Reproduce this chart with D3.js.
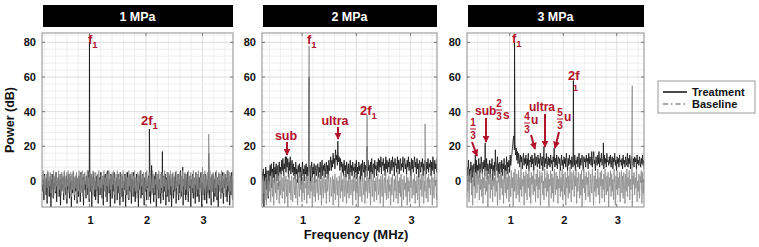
<!DOCTYPE html>
<html><head><meta charset="utf-8">
<script src="https://cdn.jsdelivr.net/npm/d3@7"></script>
<style>body{margin:0;background:#fff} svg{display:block;font-family:"Liberation Sans",Arial,sans-serif}</style>
</head><body><svg id="c" width="759" height="247"></svg>
<script>
// ---------------- DATA ----------------
const panelTitles = ["1 MPa", "2 MPa", "3 MPa"];
const xDomains = [[0.16, 3.54], [0.26, 3.49], [0.2, 3.51]];
const yDomain = [-15, 85.4];
const xTicks = [1, 2, 3];
const yTicks = [0, 20, 40, 60, 80];
const seriesNames = ["Treatment", "Baseline"];
const freqStart = 0.16, freqStep = 0.0113;   // MHz, spectrum sampling

const p1Treatment = [3,-6,1,-11,4,-2,-8,2,-13,5,-4,0,-9,3,-15,1,-5,4,-10,-1,
 2,-7,5,-12,0,-3,3,-9,1,-14,4,-6,-1,2,-11,5,-4,-8,3,-13,
 1,-5,4,-10,-2,3,-15,0,-7,5,-3,-11,2,-6,4,-13,1,-9,3,-4,
 -12,5,-1,-7,2,-14,4,-5,0,-10,3,-8,6,-2,-12,1,-6,4,-15,2,
 -3,5,-9,0,-11,3,-6,4,-13,-1,2,-8,5,-4,-10,1,-14,3,-5,4,
 -9,2,-12,6,-3,-7,1,-15,4,-2,-10,3,-6,5,-13,0,-4,2,-11,4,
 -7,1,-14,5,-3,-9,3,-12,0,-5,4,-15,2,-8,5,-1,-11,3,-6,4,
 -13,1,-4,5,-9,2,-12,-2,4,-7,0,-15,3,-5,6,-10,1,-8,4,-3,
 -14,2,-6,5,-11,0,-4,3,-9,6,-13,1,-7,4,-2,-12,3,-8,5,-15,
 2,-5,4,-10,1,-3,-13,5,-7,0,-11,3,-6,4,-14,2,-9,5,-2,-12,
 3,-8,1,-15,4,-4,-10,2,-6,5,-13,0,-3,4,-11,1,-7,6,-9,-2,
 3,-14,1,-5,4,-11,2,-8,5,-12,0,-4,3,-15,1,-7,4,-10,2,-3,
 -13,5,-6,1,-9,4,-12,2,-4,5,-15,0,-8,3,-5,-11,4,-2,-13,1,
 -7,5,-10,2,-4,-14,3,-6,4,-12,1,-9,5,-3,-11,2,-15,4,-5,0,
 -10,3,-7,5,-13,1,-4,4,-9,2,-12,6,-6,0,-14,3,-8,5,-3,-11];
const p1Baseline = [5,-2,6,-6,3,-8,1,4,-4,6,-9,2,-3,5,-7,4,0,-10,6,-1,
 3,-6,5,-3,2,-9,6,-5,4,-1,-8,5,-2,3,-7,6,-4,1,-10,5,
 -3,6,-7,2,-1,5,-9,4,-5,6,-2,-8,3,-4,5,-11,2,-6,6,0,
 -7,4,-3,6,-9,1,-5,5,-2,3,-8,6,-4,2,-10,5,-1,-6,4,-3,
 6,-8,2,-5,5,-1,-9,4,-3,6,-7,1,-4,5,-10,3,-2,6,-6,2,
 -9,5,-3,4,-7,6,-1,-5,3,-10,5,-2,6,-8,2,-4,4,-11,6,-3,
 2,-7,5,-1,-9,4,-4,6,-6,3,-2,-8,5,-5,2,-10,6,-3,4,-7,
 1,5,-9,3,-4,6,-6,2,-2,-10,5,-5,4,-1,-8,6,-3,3,-7,5,
 -2,-9,4,-5,6,-3,2,-11,5,-6,3,-1,-8,6,-4,4,-7,1,-2,5,
 -10,3,-5,6,-2,-7,4,-4,5,-9,2,-3,6,-6,1,-8,5,-1,-5,4,
 -11,6,-3,2,-7,5,-5,3,-1,-9,6,-4,4,-8,2,-2,5,-10,3,-6,
 6,-3,1,-8,5,-5,4,-1,-9,6,-6,2,-3,5,-10,3,-4,6,-7,1,
 -2,5,-9,4,-5,6,-3,-8,2,-6,5,-1,-11,4,-4,6,-7,3,-2,5,
 -8,2,-5,6,-3,-10,4,-6,5,-1,-7,3,-4,6,-9,2,-2,5,-6,4,
 -10,6,-4,3,-7,5,-2,-9,4,-5,6,-3,1,-8,5,-6,3,-1,-10,6];
const p2Treatment = [4,-6,7,-12,2,6,-3,8,-9,5,1,7,-15,4,-2,8,-5,6,0,-10,
 6,-2,9,3,10,-4,7,2,11,-1,8,4,10,0,6,9,-3,11,5,8,
 4,12,6,13,3,10,7,14,5,12,8,13,2,11,6,14,4,9,12,5,
 10,3,8,1,11,4,7,-1,9,5,10,2,8,-2,6,11,3,7,0,9,
 4,10,1,8,3,12,5,9,0,7,11,2,8,4,10,-1,6,9,3,7,
 10,2,8,5,11,1,7,12,3,9,6,10,2,8,11,4,9,1,12,6,
 9,14,6,12,8,16,10,13,7,18,12,15,9,17,11,14,6,13,8,11,
 5,10,3,12,6,9,2,11,7,4,10,1,8,12,5,9,3,11,6,8,
 2,10,5,12,1,8,4,11,6,9,0,10,3,12,7,5,11,2,9,6,
 10,3,12,6,9,1,11,5,13,4,8,10,2,12,7,9,3,11,6,13,
 5,12,8,14,4,11,9,13,6,10,3,14,7,12,5,11,8,13,4,10,
 12,6,14,8,11,3,13,9,10,5,14,7,12,4,11,13,6,10,8,14,
 5,11,13,7,10,4,12,8,14,6,11,9,3,13,7,12,5,10,14,8,
 11,4,13,7,10,2,12,9,5,11,8,13,3,10,6,12,9,4,11,7,
 13,5,10,8,12,3,11,6,14,9,4,12,7,10,5,13,8,11,6,9];
const p2Baseline = [-3,-12,2,-8,-15,1,-5,4,-10,-1,-13,3,-7,0,-11,2,-14,-4,4,-9,
 0,-6,3,-12,-2,5,-9,1,-14,-3,2,-7,4,-11,-1,-5,3,-13,0,-8,
 4,-4,-10,2,-6,5,-13,-1,3,-9,1,-15,-2,4,-7,0,-11,3,-5,-12,
 2,-3,-8,4,-10,1,-6,-14,3,-2,-9,5,-5,0,-12,2,-7,4,-11,-1,
 -4,3,-13,1,-8,-2,5,-10,0,-6,3,-15,2,-4,-9,4,-12,-1,1,-7,
 3,-11,-3,4,-8,0,-14,2,-5,-10,5,-2,-7,1,-13,3,-6,-1,4,-12,
 -2,2,-9,-5,3,-14,1,-7,4,-11,-3,2,-8,0,-15,3,-4,-10,5,-6,
 1,-12,-2,4,-9,-5,2,-13,0,-7,3,-10,-1,5,-8,-4,1,-14,3,-6,
 -3,4,-11,0,-7,2,-15,-2,3,-9,1,-5,-12,4,-1,-8,2,-13,0,-6,
 4,-10,-3,2,-7,1,-14,-4,5,-9,-1,3,-12,0,-6,2,-11,-2,4,-8,
 -5,1,-13,3,-3,-9,4,-15,-1,2,-7,5,-11,-4,1,-10,3,-6,-2,-14,
 2,-8,4,-4,-12,1,-6,3,-10,-2,5,-13,0,-7,2,-9,4,-15,-3,1,
 -11,3,-5,-1,-9,4,-14,2,-6,0,-12,3,-4,5,-10,-2,1,-8,4,-13,
 0,-7,3,-11,-3,2,-15,1,-5,4,-9,-1,3,-13,0,-6,5,-10,-2,2,
 -12,4,-4,1,-8,-1,3,-14,2,-6,-10,4,-3,0,-11,2,-7,5,-9,-2];
const p3Treatment = [6,1,10,-2,8,3,12,0,7,4,11,-1,9,2,6,10,-3,8,5,12,
 3,9,6,13,2,10,5,14,8,4,11,7,12,3,9,6,13,1,10,7,
 4,12,2,10,7,13,0,9,5,11,3,12,8,6,14,2,10,4,11,8,
 5,12,3,10,7,13,1,9,6,14,4,11,8,12,5,15,9,13,16,20,
 24,26,18,22,15,19,12,17,10,16,13,8,15,11,14,7,12,16,9,13,
 10,15,7,13,9,16,6,12,11,14,8,15,10,13,6,12,16,9,14,11,
 8,15,10,13,7,16,12,9,14,6,12,15,8,13,10,16,7,11,14,9,
 13,8,15,10,12,6,14,11,16,8,13,9,15,7,12,14,10,13,6,11,
 15,9,12,7,14,10,13,8,16,11,6,13,9,15,10,12,7,14,11,8,
 13,9,15,6,12,10,14,8,11,16,7,13,9,12,15,10,6,14,11,13,
 8,15,11,13,7,16,10,14,12,9,17,8,13,15,10,12,6,14,11,9,
 15,10,17,8,13,11,16,9,12,14,7,15,10,13,8,16,11,12,9,14,
 10,15,8,12,14,7,13,11,16,9,12,6,14,10,13,8,15,11,12,9,
 13,7,15,10,12,8,14,11,9,16,8,13,10,15,7,12,14,9,11,13,
 8,14,11,13,7,15,10,12,9,14,11,8,13,10,15,9,12,7,14,11];
const p3Baseline = [5,-4,8,-9,2,-6,7,-12,3,-1,6,-8,1,-14,5,-3,7,-10,0,4,
 -7,6,-2,3,-11,7,-5,1,-9,5,-13,2,-4,8,-8,0,-6,6,-15,3,
 -2,7,-10,4,-5,1,-12,6,-3,2,-9,8,-6,0,-14,5,-1,3,-11,7,
 -4,4,-8,1,-13,6,-2,-7,5,-10,2,-5,7,-12,3,-1,-9,6,-4,2,
 -15,5,-6,7,-3,-10,4,0,-8,6,-12,2,-5,8,-9,1,-3,5,-14,3,
 -7,6,-1,-11,4,-4,7,-9,2,-13,5,-2,3,-8,6,-6,1,-12,4,-3,
 7,-10,2,-5,6,-14,3,-1,5,-8,0,-11,7,-4,2,-9,6,-6,4,-15,
 1,-3,6,-10,4,-7,2,-12,7,-2,-8,5,-5,3,-13,1,-4,6,-9,2,
 -6,7,-11,4,-1,-8,5,-14,2,-4,6,-10,3,-7,8,-2,-12,5,-5,1,
 6,-9,3,-3,7,-13,2,-6,5,-1,-10,4,-8,6,-15,1,-4,7,-7,3,
 -11,5,-2,2,-9,6,-5,-12,4,0,-7,7,-3,-14,3,-6,5,-9,1,-4,
 7,-8,2,-13,5,-3,6,-10,1,-5,4,-12,7,-1,-8,3,-6,5,-15,2,
 -3,6,-9,4,-6,1,-11,7,-2,-14,3,-5,6,-8,2,-4,5,-12,0,6,
 -7,3,-10,5,-1,-13,4,-6,7,-9,2,-3,6,-11,1,-5,4,-15,3,-2,
 5,-8,2,-4,7,-12,0,-6,4,-10,3,-1,6,-13,5,-7,1,-9,6,-3];

// discrete spectral peaks (frequency MHz, power dB)
const p1TreatPeakF = [1.0, 2.06, 2.1, 2.29, 2.65, 3.11];
const p1TreatPeakDb = [80, 30, 9, 17, 8, 16];
const p1BasePeakF = [3.0, 3.11];
const p1BasePeakDb = [8, 27];
const p2TreatPeakF = [0.71, 1.13, 1.66, 2.2];
const p2TreatPeakDb = [14, 60, 23, 20];
const p2BasePeakF = [1.13, 2.2, 3.27];
const p2BasePeakDb = [78, 38, 33];
const p3TreatPeakF = [0.355, 0.54, 0.73, 1.089, 1.46, 1.64, 1.83, 2.19, 2.57, 2.75];
const p3TreatPeakDb = [15, 22, 18, 80, 16, 20, 19, 58, 17, 22];
const p3BasePeakF = [3.29];
const p3BasePeakDb = [55];

// ---------------- DRAW ----------------
const svg = d3.select("#c");
const red = "#b3122b";
const plotTop = 33, plotBottom = 207;
const panelPx = [[42, 233], [262, 437], [467, 644]];
const treat = [p1Treatment, p2Treatment, p3Treatment];
const base = [p1Baseline, p2Baseline, p3Baseline];
const treatPk = [[p1TreatPeakF, p1TreatPeakDb], [p2TreatPeakF, p2TreatPeakDb], [p3TreatPeakF, p3TreatPeakDb]];
const basePk = [[p1BasePeakF, p1BasePeakDb], [p2BasePeakF, p2BasePeakDb], [p3BasePeakF, p3BasePeakDb]];

const defs = svg.append("defs");
defs.append("marker").attr("id", "arr").attr("viewBox", "0 0 10 10")
  .attr("refX", 9).attr("refY", 5).attr("markerUnits", "userSpaceOnUse")
  .attr("markerWidth", 7).attr("markerHeight", 7).attr("orient", "auto")
  .append("path").attr("d", "M0,0 L10,5 L0,10 z").attr("fill", red);

function mergeSeries(vals, pk) {
  const pts = vals.map((v, i) => [freqStart + i * freqStep, v]);
  pk[0].forEach((f, j) => pts.push([f, pk[1][j]]));
  pts.sort((a, b) => a[0] - b[0]);
  return pts;
}

const y = d3.scaleLinear().domain(yDomain).range([plotBottom, plotTop]);

panelTitles.forEach((title, p) => {
  const [L, R] = panelPx[p];
  const x = d3.scaleLinear().domain(xDomains[p]).range([L, R]);
  const g = svg.append("g");
  g.append("rect").attr("x", L + 1).attr("y", 5).attr("width", R - L - 1).attr("height", 22).attr("fill", "#000");
  g.append("text").attr("x", (L + R) / 2).attr("y", 20.5).attr("text-anchor", "middle")
    .attr("fill", "#fff").attr("font-weight", "bold").attr("font-size", 12.5).text(title);
  const minorX = d3.range(0.2, 3.6, 0.2).filter(v => v > xDomains[p][0] && v < xDomains[p][1]);
  const minorY = d3.range(-12, 86, 4);
  g.selectAll(null).data(minorX).join("line")
    .attr("x1", d => x(d)).attr("x2", d => x(d)).attr("y1", plotTop).attr("y2", plotBottom)
    .attr("stroke", d => Math.abs(d - Math.round(d)) < 1e-6 ? "#d6d6d6" : "#ebebeb").attr("stroke-width", 0.8);
  g.selectAll(null).data(minorY).join("line")
    .attr("x1", L).attr("x2", R).attr("y1", d => y(d)).attr("y2", d => y(d))
    .attr("stroke", d => d % 20 === 0 ? "#d6d6d6" : "#ebebeb").attr("stroke-width", 0.8);
  defs.append("clipPath").attr("id", "clip" + p).append("rect")
    .attr("x", L).attr("y", plotTop).attr("width", R - L).attr("height", plotBottom - plotTop);
  const line = d3.line().x(d => x(d[0])).y(d => y(d[1]));
  const body = g.append("g").attr("clip-path", `url(#clip${p})`);
  body.append("path").datum(mergeSeries(treat[p], treatPk[p])).attr("d", line)
    .attr("fill", "none").attr("stroke", "#111").attr("stroke-width", 0.8);
  body.append("path").datum(mergeSeries(base[p], basePk[p])).attr("d", line)
    .attr("fill", "none").attr("stroke", "#8c8c8c").attr("stroke-width", 0.8);
  g.append("rect").attr("x", L).attr("y", plotTop).attr("width", R - L).attr("height", plotBottom - plotTop)
    .attr("fill", "none").attr("stroke", "#8c8c8c").attr("stroke-width", 1);
  g.selectAll(null).data(yTicks).join("line")
    .attr("x1", L).attr("x2", L + 3).attr("y1", d => y(d)).attr("y2", d => y(d)).attr("stroke", "#777");
  g.selectAll(null).data(yTicks).join("line")
    .attr("x1", R - 3).attr("x2", R).attr("y1", d => y(d)).attr("y2", d => y(d)).attr("stroke", "#777");
  g.selectAll(null).data(xTicks).join("line")
    .attr("x1", d => x(d)).attr("x2", d => x(d)).attr("y1", plotBottom - 3).attr("y2", plotBottom).attr("stroke", "#777");
  g.selectAll(null).data(xTicks).join("line")
    .attr("x1", d => x(d)).attr("x2", d => x(d)).attr("y1", plotTop).attr("y2", plotTop + 3).attr("stroke", "#777");
  g.selectAll(null).data(yTicks).join("text")
    .attr("x", L - 6).attr("y", d => y(d) + 4).attr("text-anchor", "end")
    .attr("font-weight", "bold").attr("font-size", 11).attr("fill", "#111").text(d => d);
  g.selectAll(null).data(xTicks).join("text")
    .attr("x", d => x(d) + 1).attr("y", 224).attr("text-anchor", "middle")
    .attr("font-weight", "bold").attr("font-size", 11).attr("fill", "#111").text(d => d);
});

svg.append("text").attr("x", 356).attr("y", 239).attr("text-anchor", "middle")
  .attr("font-weight", "bold").attr("font-size", 13).attr("fill", "#111").text("Frequency (MHz)");
svg.append("text").attr("transform", "translate(14,120) rotate(-90)").attr("text-anchor", "middle")
  .attr("font-weight", "bold").attr("font-size", 12.5).attr("fill", "#111").text("Power (dB)");

// annotations
const ann = svg.append("g").attr("fill", red).attr("font-weight", "bold");
function sub(xp, yp, main, s) {
  const t = ann.append("text").attr("x", xp).attr("y", yp).attr("font-size", 13);
  t.append("tspan").text(main);
  t.append("tspan").attr("dy", 4).attr("font-size", 9.5).text(s);
}
function frac(xp, yNum, num, den) {
  ann.append("text").attr("x", xp).attr("y", yNum).attr("text-anchor", "middle").attr("font-size", 10).text(num);
  ann.append("line").attr("x1", xp - 3).attr("x2", xp + 3).attr("y1", yNum + 3).attr("y2", yNum + 3)
    .attr("stroke", red).attr("stroke-width", 1);
  ann.append("text").attr("x", xp).attr("y", yNum + 13).attr("text-anchor", "middle").attr("font-size", 10).text(den);
}
function arrow(x1, y1, x2, y2) {
  ann.append("line").attr("x1", x1).attr("y1", y1).attr("x2", x2).attr("y2", y2)
    .attr("stroke", red).attr("stroke-width", 2).attr("marker-end", "url(#arr)");
}
function txt(xp, yp, s, anchor, size) {
  ann.append("text").attr("x", xp).attr("y", yp).attr("font-size", size || 12).attr("text-anchor", anchor || "start").text(s);
}
// panel 1
sub(88, 44, "f", "1");
sub(141, 125, "2f", "1");
// panel 2
sub(307, 44, "f", "1");
sub(360, 115, "2f", "1");
txt(335, 125, "ultra", "middle", 12.5);
arrow(338, 127, 338, 139);
txt(286, 140, "sub", "middle", 12.5);
arrow(287, 142, 287, 155);
// panel 3
sub(512, 43, "f", "1");
txt(568, 80, "2f", "start", 13);
ann.append("text").attr("x", 573).attr("y", 91).attr("font-size", 9).text("1");
txt(475, 115, "sub");
arrow(486, 118, 486, 142);
frac(499, 107, "2", "3");
txt(503, 119, "s");
frac(473, 126, "1", "3");
arrow(472, 142, 477, 156);
frac(527, 120, "4", "3");
txt(531, 124, "u");
arrow(531, 135, 535, 149);
txt(542, 111, "ultra", "middle");
arrow(545, 114, 545, 147);
frac(560, 116, "5", "3");
txt(564, 121, "u");
arrow(559, 132, 555, 148);

// legend
const lg = svg.append("g");
lg.append("rect").attr("x", 658).attr("y", 81).attr("width", 97).attr("height", 32)
  .attr("fill", "#fff").attr("stroke", "#9a9a9a");
const legendStyles = [{c: "#111", dash: null}, {c: "#8a8a8a", dash: "5,3,1.5,3"}];
seriesNames.forEach((n, i) => {
  const yy = 92 + i * 12;
  lg.append("line").attr("x1", 663).attr("x2", 687).attr("y1", yy).attr("y2", yy)
    .attr("stroke", legendStyles[i].c).attr("stroke-width", 1.5).attr("stroke-dasharray", legendStyles[i].dash);
  lg.append("text").attr("x", 692).attr("y", yy + 4).attr("font-weight", "bold").attr("font-size", 11)
    .attr("fill", "#111").text(n);
});
</script></body></html>
